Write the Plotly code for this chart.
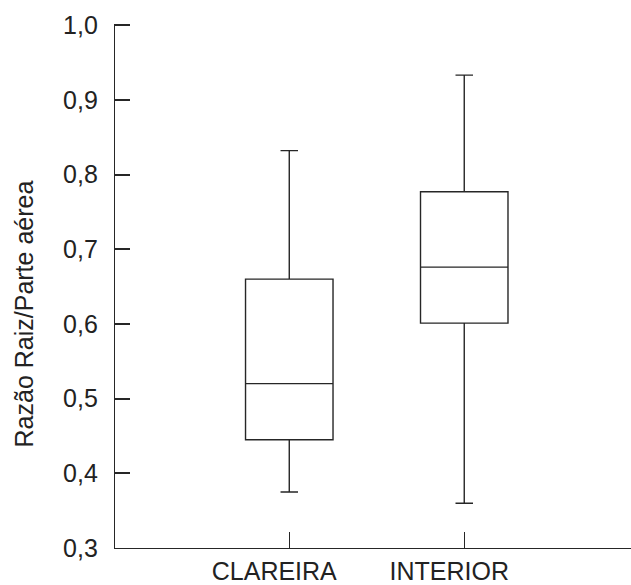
import plotly.graph_objects as go

categories = ["CLAREIRA", "INTERIOR"]
lower_whisker = [0.375, 0.360]
q1_values = [0.445, 0.601]
median_values = [0.520, 0.676]
q3_values = [0.660, 0.777]
upper_whisker = [0.832, 0.933]

y_title = "Razão Raiz/Parte aérea"

line_color = "#262626"
font_family = "Liberation Sans, Arial, sans-serif"

fig = go.Figure()
fig.add_trace(go.Box(
    x=categories,
    q1=q1_values,
    median=median_values,
    q3=q3_values,
    lowerfence=lower_whisker,
    upperfence=upper_whisker,
    width=0.5,
    whiskerwidth=0.2,
    line=dict(color=line_color, width=1.4),
    fillcolor="rgba(255,255,255,0)",
    boxpoints=False,
    showlegend=False,
    hoverinfo="skip",
))

fig.update_layout(
    width=631,
    height=585,
    margin=dict(l=115, r=0, t=24, b=35),
    paper_bgcolor="white",
    plot_bgcolor="white",
    separators=", ",
    font=dict(family=font_family, size=25, color="#222222"),
    showlegend=False,
)

fig.add_annotation(
    text=y_title,
    textangle=-90,
    xref="paper", yref="paper",
    x=0, y=0.4457,
    xanchor="center", yanchor="middle",
    xshift=-91,
    showarrow=False,
    font=dict(size=25, color="#222222"),
)

fig.update_xaxes(
    type="category",
    categoryorder="array",
    categoryarray=categories,
    range=[-0.996, 1.953],
    showline=True,
    linecolor=line_color,
    linewidth=1.4,
    ticks="inside",
    ticklen=16,
    tickwidth=1.4,
    tickcolor=line_color,
    showgrid=False,
    zeroline=False,
    tickfont=dict(size=25),
    ticklabelshift=-15,
    ticklabelstandoff=1,
)

fig.update_yaxes(
    range=[0.3, 1.0015],
    tickmode="array",
    tickvals=[0.3, 0.4, 0.5, 0.6, 0.7, 0.8, 0.9, 1.0],
    tickformat=".1f",
    showline=True,
    linecolor=line_color,
    linewidth=1.4,
    ticks="inside",
    ticklen=15,
    tickwidth=1.6,
    tickcolor=line_color,
    showgrid=False,
    zeroline=False,
    tickfont=dict(size=25),
    ticklabelstandoff=11,
)

fig.write_html("out.html")
